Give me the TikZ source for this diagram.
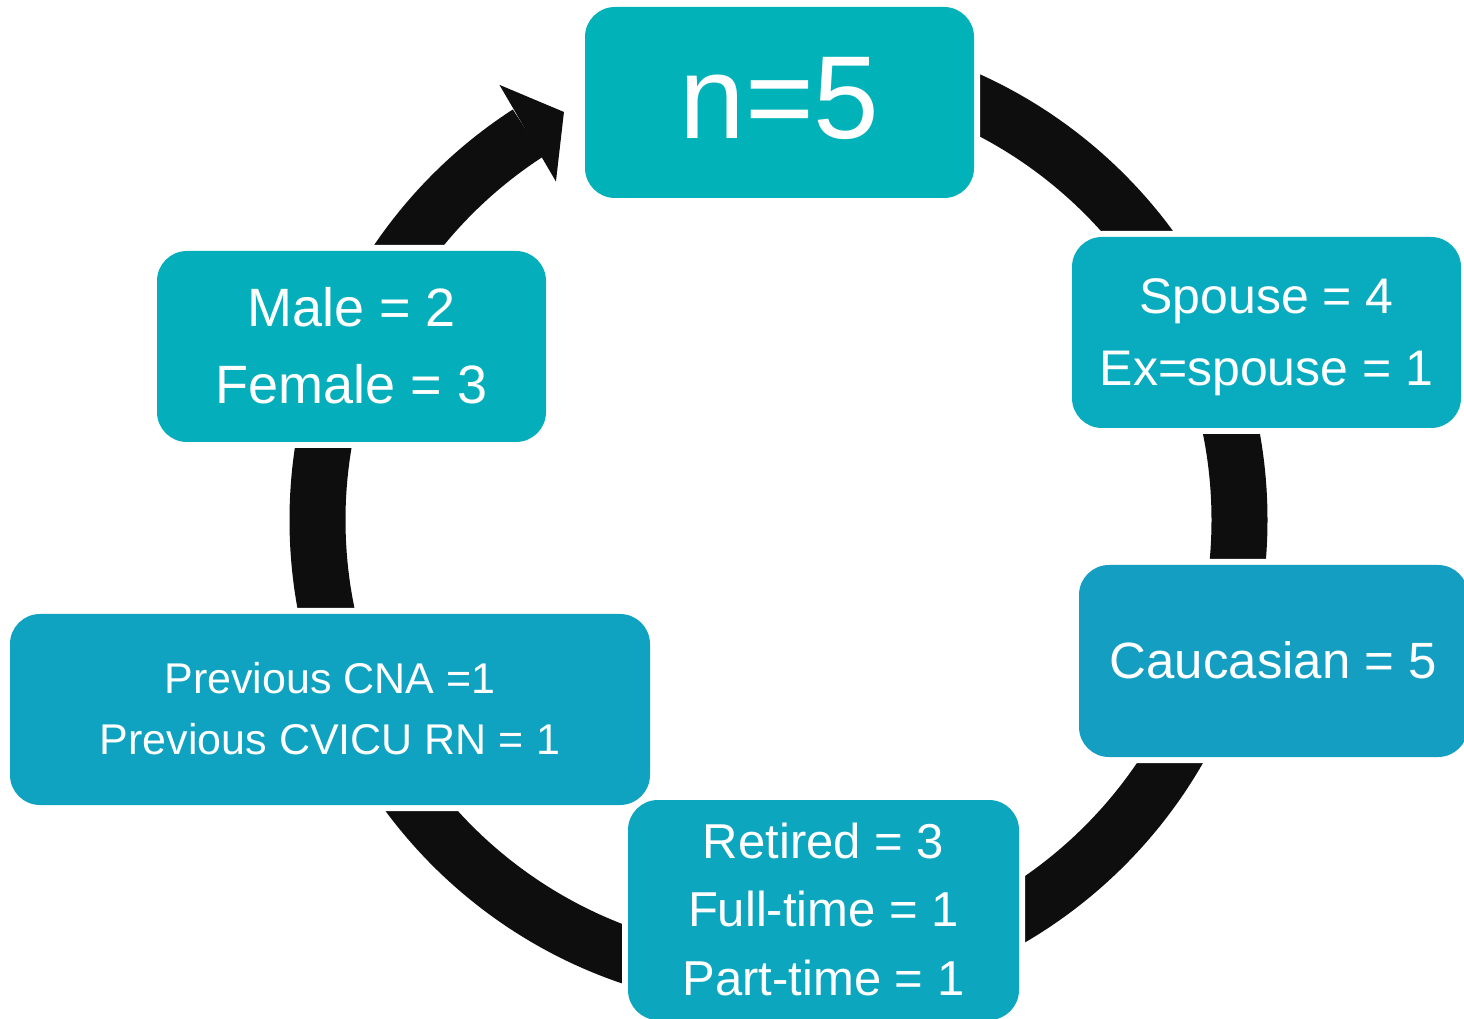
\documentclass[tikz,border=0pt]{standalone}
\usepackage{fontspec}
\setmainfont{Liberation Sans}
\usetikzlibrary{arrows.meta,bending}
\definecolor{arcblack}{HTML}{0E0E0E}
\definecolor{cA}{HTML}{02B2B9}
\definecolor{cB}{HTML}{09ABBF}
\definecolor{cC}{HTML}{139EC2}
\definecolor{cD}{HTML}{0CA6BF}
\definecolor{cE}{HTML}{0FA3C1}
\definecolor{cF}{HTML}{04AFBB}
\newcommand\sttop{\rule{0pt}{0.905em}}
\newcommand\stbot{\rule[-0.212em]{0pt}{0pt}}
\begin{document}
\begin{tikzpicture}[x=1pt,y=1pt,
  box/.style={rectangle, rounded corners=30pt, inner sep=0pt, text=white,
    align=center, preaction={draw=white, line width=12pt}},
  ring/.style={line width=56pt, draw=arcblack,
    -{Triangle[width=112pt,length=42pt,line width=0pt]}}]
\useasboundingbox (0,0) rectangle (1464,1018);
\coordinate (cen) at (778.5,498);
\draw[ring] (cen) ++(90:461) arc[start angle=90, end angle=-242.26, radius=461];
\node[box, fill=cA, minimum width=389pt, minimum height=191pt,
  font=\fontsize{118}{120}\selectfont] (n5) at (779.5,915.5)
  {\sttop n=5\rule[-0.29em]{0pt}{0pt}};
\node[box, fill=cB, minimum width=389pt, minimum height=191pt,
  font=\fontsize{50}{72}\selectfont] (spouse) at (1266.5,685.5)
  {\sttop Spouse = 4\\Ex=spouse = 1\stbot};
\node[box, fill=cC, minimum width=389pt, minimum height=192pt,
  font=\fontsize{51}{72}\selectfont] (cauc) at (1273.5,357)
  {\sttop Caucasian = 5\stbot};
\node[box, fill=cD, minimum width=391pt, minimum height=220pt,
  font=\fontsize{49}{68.5}\selectfont] (retired) at (823.5,108)
  {\sttop Retired = 3\\Full-time = 1\\Part-time = 1\stbot};
\node[box, fill=cE, minimum width=640pt, minimum height=191pt,
  font=\fontsize{43}{61}\selectfont] (prev) at (330,308.5)
  {\sttop Previous CNA =1\\Previous CVICU RN = 1\stbot};
\node[box, fill=cF, minimum width=389pt, minimum height=191pt,
  font=\fontsize{54}{77}\selectfont] (male) at (351.5,671.5)
  {\sttop Male = 2\\Female = 3\stbot};
\end{tikzpicture}
\end{document}
